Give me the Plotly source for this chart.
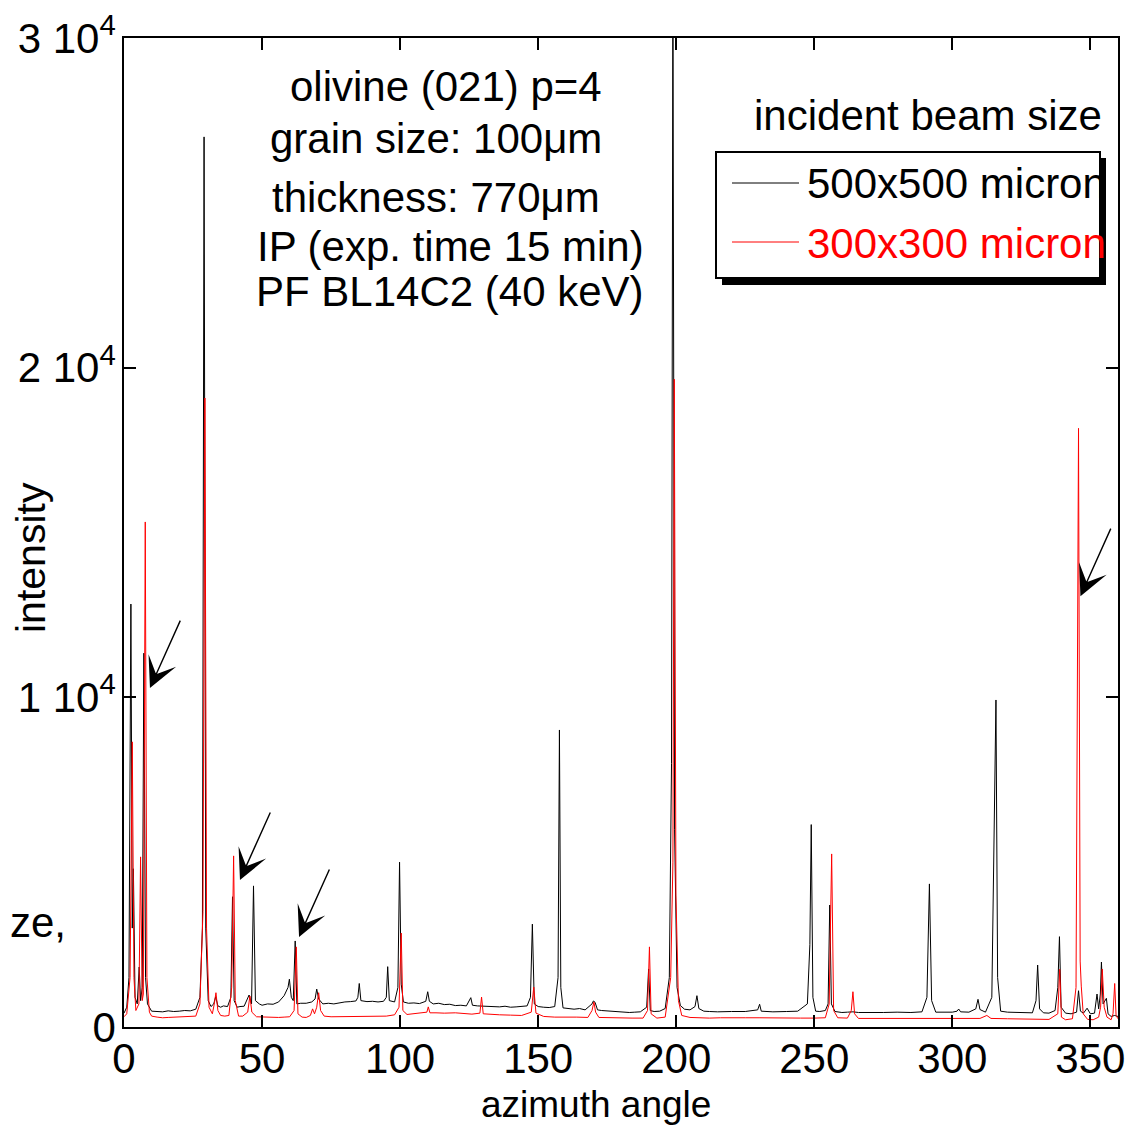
import plotly.graph_objects as go

# ---------------- data ----------------
# 500x500 micron beam (black): (azimuth angle, intensity)
black_points = [
    (0, 420), (1.0, 600), (1.8, 1500), (2.5, 12830), (3.0, 3000), (3.4, 4800), (4.0, 900),
    (4.8, 700), (5.5, 1820), (6.0, 800), (6.6, 1200), (7.2, 11340), (7.8, 1500), (8.5, 700),
    (10, 480), (12, 470), (14, 460), (16, 490), (18, 470), (20, 480), (22, 500), (24, 490),
    (26, 540), (27.5, 900), (28.4, 3000), (29.0, 27000), (29.6, 3000), (30.5, 800), (31.5, 620),
    (32.5, 700), (33.2, 920), (34, 640), (35, 600), (36, 640), (37.5, 620), (38.7, 900),
    (39.3, 3950), (39.9, 800), (41, 600), (42, 620), (43.5, 630), (45.3, 970), (46.2, 700),
    (46.9, 4280), (47.6, 800), (49, 700), (50, 660), (52, 700), (54, 690), (56, 760), (58, 950),
    (59.4, 1200), (59.9, 1450), (60.6, 900), (61.3, 800), (62.0, 2610), (62.6, 700), (64, 720),
    (66, 720), (68, 760), (69.2, 850), (69.8, 1150), (70.5, 850), (72, 700), (74, 720), (76, 700),
    (78, 740), (80, 760), (82, 770), (84, 790), (84.7, 900), (85.2, 1320), (85.8, 800), (88, 770),
    (90, 780), (92, 760), (94, 780), (95, 900), (95.5, 1830), (96.1, 800), (98, 760), (99.2, 1200),
    (99.8, 5000), (100.4, 1300), (101.2, 760), (103, 720), (105, 730), (107, 710), (109.3, 780),
    (110, 1070), (110.6, 780), (112, 700), (114, 720), (116, 680), (118, 690), (120, 650),
    (122, 660), (124, 640), (125.6, 890), (126.2, 660), (128, 640), (130, 630), (132, 640),
    (134, 620), (136, 610), (138, 630), (140, 600), (142, 610), (144, 620), (146, 640),
    (147.2, 900), (147.9, 3120), (148.6, 700), (150, 620), (152, 600), (154, 590), (156, 620),
    (157.2, 1500), (157.7, 9010), (158.2, 1200), (159, 580), (161, 560), (163, 540), (165, 560),
    (167, 520), (169.5, 700), (170, 790), (170.6, 750), (171.5, 520), (173, 500), (175, 490),
    (177, 470), (179, 450), (181, 460), (183, 440), (185, 450), (187, 460), (189.3, 600),
    (190, 1760), (190.6, 500), (192, 470), (194, 480), (196, 560), (197.5, 1500), (198.3, 8000),
    (198.8, 32000), (199.4, 6000), (200.3, 1200), (201.5, 650), (203, 540), (205, 520),
    (206.8, 620), (207.5, 950), (208.2, 560), (210, 480), (212, 470), (215, 460), (220, 470),
    (225, 470), (229.5, 520), (230.2, 690), (230.8, 480), (235, 460), (240, 470), (244, 480),
    (247.5, 700), (248.4, 2500), (248.9, 6140), (249.5, 900), (250.5, 480), (252, 470),
    (254, 500), (255.0, 700), (255.6, 3700), (256.2, 700), (257.5, 470), (260, 440), (262, 450),
    (264, 460), (266, 440), (270, 450), (275, 440), (280, 450), (285, 440), (289, 460),
    (290.8, 900), (291.7, 4340), (292.5, 800), (294, 450), (297, 440), (300, 450), (301.7, 480),
    (302.3, 545), (303, 460), (306, 450), (308.5, 550), (309.3, 840), (310, 530), (312, 450),
    (314.3, 900), (315.3, 6000), (315.8, 9920), (316.4, 1500), (317.5, 480), (320, 450),
    (323, 440), (326, 450), (329, 430), (330.3, 800), (330.9, 1880), (331.6, 550), (333, 430),
    (335, 420), (337.2, 500), (338.2, 1200), (338.8, 2740), (339.4, 600), (341, 420), (343, 400),
    (345.0, 450), (345.7, 1100), (346.4, 480), (347.5, 420), (348.8, 570), (350, 400),
    (351.5, 420), (352.4, 1000), (353.0, 550), (353.6, 1000), (354.0, 1970), (354.6, 700),
    (355.8, 870), (356.4, 400), (357.5, 320), (358.8, 350), (360, 320),
]

# 300x300 micron beam (red): (azimuth angle, intensity)
red_points = [
    (0, 310), (1.0, 400), (2.2, 1500), (3.0, 8650), (3.6, 1500), (4.3, 500), (5.4, 700),
    (6.0, 5160), (6.6, 800), (7.0, 1000), (7.7, 15320), (8.3, 1500), (9.2, 450), (10, 330),
    (12, 300), (14, 280), (16, 290), (18, 300), (20, 290), (22, 300), (24, 310), (26, 330),
    (27.5, 700), (28.6, 3500), (29.3, 19080), (29.9, 3000), (30.8, 600), (32, 400), (32.7, 700),
    (33.3, 1040), (34, 500), (35, 350), (36.5, 330), (38, 350), (39.0, 1200), (39.7, 5190),
    (40.3, 800), (41.5, 330), (43, 330), (44.8, 450), (45.6, 940), (46.3, 450), (48, 310),
    (50, 300), (52, 290), (54, 300), (56, 290), (58, 300), (60, 310), (61.6, 500), (62.4, 2430),
    (63, 400), (64.5, 300), (66, 290), (67.5, 350), (68.3, 550), (69, 400), (69.8, 600),
    (70.5, 1040), (71.2, 500), (72.5, 330), (75, 310), (80, 320), (85, 330), (90, 340),
    (95, 330), (98, 370), (99.6, 600), (100.4, 2850), (101, 500), (102.5, 380), (105, 400),
    (108, 430), (109.7, 450), (110.2, 610), (110.8, 430), (113, 430), (116, 420), (120, 430),
    (123, 410), (126, 390), (128.9, 420), (129.5, 910), (130.1, 400), (133, 380), (136, 370),
    (140, 360), (144, 350), (147.5, 450), (148.4, 1210), (149.2, 420), (152, 320), (156, 300),
    (160, 310), (164, 300), (168, 290), (169.5, 500), (170.2, 760), (170.8, 450), (172, 290),
    (176, 280), (180, 260), (184, 270), (188, 270), (189.6, 500), (190.3, 2430), (190.9, 400),
    (193, 270), (196, 300), (198.0, 1500), (198.8, 5000), (199.3, 19650), (199.9, 4000),
    (200.8, 800), (202, 350), (205, 290), (208, 280), (212, 270), (216, 280), (220, 270),
    (225, 280), (230, 280), (235, 270), (240, 280), (245, 270), (250, 270), (254, 280),
    (255.4, 700), (256.3, 5250), (257.0, 500), (258.5, 280), (262, 270), (263.4, 500),
    (264.0, 1070), (264.6, 400), (266, 260), (270, 260), (275, 250), (280, 260), (285, 250),
    (290, 260), (295, 250), (300, 250), (305, 260), (310, 260), (312.5, 350), (314, 260),
    (320, 250), (325, 240), (330, 240), (335, 230), (338.2, 400), (338.9, 1750), (339.5, 300),
    (341, 220), (343.5, 250), (344.8, 1200), (345.7, 18160), (346.3, 2000), (346.7, 1240),
    (347.4, 400), (349, 230), (351, 220), (353.0, 300), (353.7, 600), (354.3, 1760),
    (355.0, 600), (356.0, 300), (357.5, 220), (358.2, 400), (358.8, 1320), (359.3, 350),
    (360, 250),
]

black_angle = [p[0] for p in black_points]
black_intensity = [p[1] for p in black_points]
red_angle = [p[0] for p in red_points]
red_intensity = [p[1] for p in red_points]

series_names = ["500x500 micron", "300x300 micron"]
y_tick_values = [0, 10000, 20000, 30000]
y_tick_labels = ["0", "1 10<sup>4</sup>", "2 10<sup>4</sup>", "3 10<sup>4</sup>"]
x_tick_values = [0, 50, 100, 150, 200, 250, 300, 350]

info_lines = ["olivine (021) p=4", "grain size: 100\u03bcm", "thickness: 770\u03bcm",
              "IP (exp. time 15 min)", "PF BL14C2 (40 keV)"]
# arrows: (tip angle, tip intensity)
arrow_tips = [(9.4, 10280), (42.0, 4460), (63.4, 2730), (346.4, 13070)]

FONT = "Liberation Sans, Arial, Helvetica, sans-serif"

# ---------------- figure ----------------
fig = go.Figure()
fig.add_trace(go.Scatter(x=black_angle, y=black_intensity, mode="lines", name=series_names[0],
                         line=dict(color="black", width=1), showlegend=False))
fig.add_trace(go.Scatter(x=red_angle, y=red_intensity, mode="lines", name=series_names[1],
                         line=dict(color="#ff0000", width=1), showlegend=False))

# the page places the figure with an 8px body margin, so compensate
OFF = 8
W, H = 1136 - OFF, 1125 - OFF
L, T = 124 - OFF, 38 - OFF
R = W - (1118 - OFF)
B = H - (1027 - OFF)
pw, ph = W - L - R, H - T - B


def px(xp):
    return (xp - OFF - L) / pw


def py(yp):
    return (H + OFF - B - yp) / ph


annotations = []
info_pos = [(446, 86), (436, 138), (436, 197), (450, 246), (450, 291)]
for txt, (xx, yy) in zip(info_lines, info_pos):
    annotations.append(dict(text=txt, x=px(xx), y=py(yy), xref="paper", yref="paper",
                            showarrow=False, xanchor="center", yanchor="middle",
                            font=dict(size=42, color="black", family=FONT)))

annotations.append(dict(text="incident beam size", x=px(928), y=py(115), xref="paper",
                        yref="paper", showarrow=False, xanchor="center", yanchor="middle",
                        font=dict(size=42, color="black", family=FONT)))
annotations.append(dict(text=series_names[0], x=px(805), y=py(184), xref="paper",
                        yref="paper", showarrow=False, xanchor="left", yanchor="middle",
                        font=dict(size=42, color="black", family=FONT)))
annotations.append(dict(text=series_names[1], x=px(805), y=py(243), xref="paper",
                        yref="paper", showarrow=False, xanchor="left", yanchor="middle",
                        font=dict(size=42, color="#ff0000", family=FONT)))
# axis titles
annotations.append(dict(text="azimuth angle", x=px(596), y=py(1104), xref="paper",
                        yref="paper", showarrow=False, xanchor="center", yanchor="middle",
                        font=dict(size=37, color="black", family=FONT)))
annotations.append(dict(text="intensity", x=px(31), y=py(558), xref="paper",
                        yref="paper", showarrow=False, xanchor="center", yanchor="middle",
                        textangle=-90, font=dict(size=41, color="black", family=FONT)))
# fragment of slide text visible at the left edge
annotations.append(dict(text="ze,", x=px(8), y=py(922), xref="paper", yref="paper",
                        showarrow=False, xanchor="left", yanchor="middle",
                        font=dict(size=42, color="black", family=FONT)))

for (ax_, ay_) in arrow_tips:
    annotations.append(dict(x=ax_, y=ay_, xref="x", yref="y", text="", showarrow=True,
                            ax=31, ay=-69, arrowhead=3, arrowsize=3.6, arrowwidth=1.4,
                            arrowcolor="black"))

shapes = [
    # legend shadow
    dict(type="rect", xref="paper", yref="paper", x0=px(722), x1=px(1106), y0=py(285), y1=py(158),
         fillcolor="black", line=dict(color="black", width=0)),
    # legend box
    dict(type="rect", xref="paper", yref="paper", x0=px(716), x1=px(1100), y0=py(278), y1=py(152),
         fillcolor="white", line=dict(color="black", width=2)),
    dict(type="line", xref="paper", yref="paper", x0=px(732), x1=px(799), y0=py(183), y1=py(183),
         line=dict(color="black", width=1)),
    dict(type="line", xref="paper", yref="paper", x0=px(732), x1=px(799), y0=py(242), y1=py(242),
         line=dict(color="#ff0000", width=1)),
]

axis_common = dict(ticks="inside", ticklen=12, tickwidth=1.5, tickcolor="black",
                   showline=True, linecolor="black", linewidth=1.5, mirror="ticks",
                   showgrid=False, zeroline=False, automargin=False,
                   tickfont=dict(size=42, family=FONT, color="black"))

fig.update_layout(
    width=W, height=H,
    margin=dict(l=L, r=R, t=T, b=B, pad=0, autoexpand=False),
    paper_bgcolor="white", plot_bgcolor="white",
    font=dict(family=FONT, color="black"),
    showlegend=False,
    annotations=annotations,
    shapes=shapes,
    xaxis=dict(range=[0, 360], tickvals=x_tick_values, ticklabelstandoff=-6, **axis_common),
    yaxis=dict(range=[0, 30000], tickvals=y_tick_values, ticktext=y_tick_labels,
               ticklabelstandoff=-2, **axis_common),
)

fig.write_html("out.html")
